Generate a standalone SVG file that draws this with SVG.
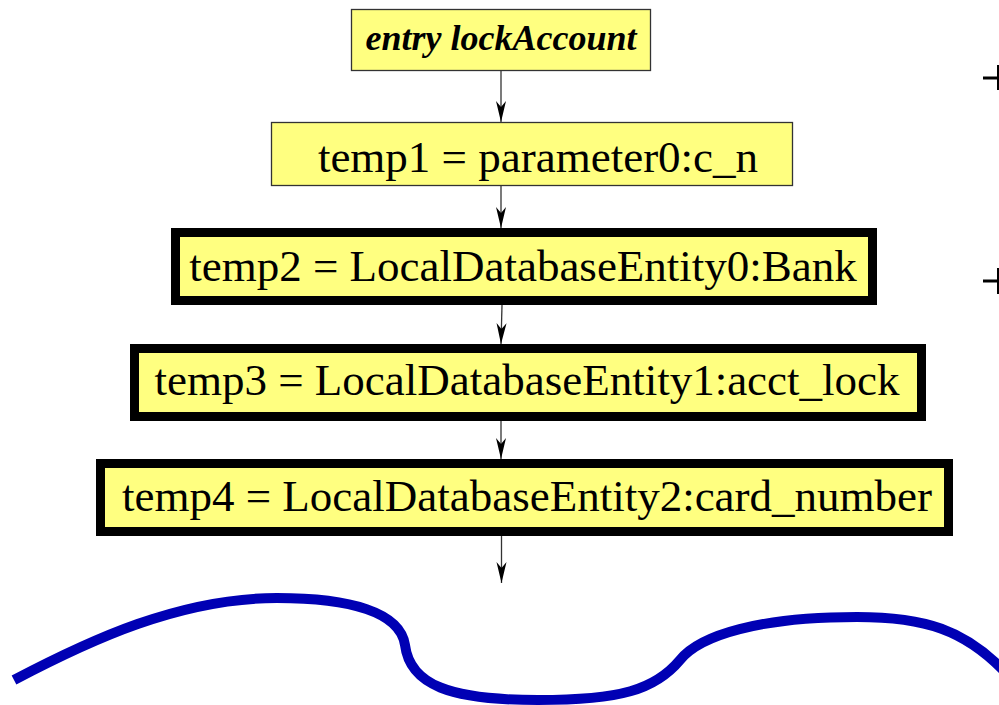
<svg xmlns="http://www.w3.org/2000/svg" width="999" height="705" viewBox="0 0 999 705">
<style>
.box{fill:#ffff80;stroke:#333;stroke-width:1.3}
.thick{fill:#ffff80;stroke:#000;stroke-width:9}
.edge{stroke:#333;stroke-width:1.3;fill:none;marker-end:url(#arr)}
.wave{fill:none;stroke:#0000b4;stroke-width:10;stroke-linecap:butt}
.cross{stroke:#000;fill:none}
</style>
<defs>
<marker id="arr" markerUnits="userSpaceOnUse" viewBox="-22 -6 23 12" markerWidth="23" markerHeight="12" refX="0" refY="0" orient="auto">
<path d="M0,0 L-21,-5 L-15,0 L-21,5 Z" fill="#000"/>
</marker>
</defs>
<g id="connectors">
<line class="edge" x1="501" y1="70" x2="501" y2="122"/>
<line class="edge" x1="501" y1="186" x2="501" y2="228"/>
<line class="edge" x1="502" y1="305" x2="501" y2="344"/>
<line class="edge" x1="501" y1="421" x2="501" y2="459"/>
<line class="edge" x1="501.5" y1="536" x2="501.5" y2="583"/>
</g>
<g id="node-entry">
<rect class="box" x="351.5" y="9.5" width="299" height="61"/>
<text font-family="'Liberation Serif', serif" font-size="36" font-weight="bold" font-style="italic" x="501" y="50" text-anchor="middle">entry lockAccount</text>
</g>
<g id="node-temp1">
<rect class="box" x="271.5" y="122.5" width="521" height="63"/>
<text font-family="'Liberation Serif', serif" font-size="45" x="538" y="172" text-anchor="middle">temp1 = parameter0:c_n</text>
</g>
<g id="node-temp2">
<rect class="thick" x="175.5" y="232.5" width="697" height="68"/>
<text font-family="'Liberation Serif', serif" font-size="45" x="523" y="281" text-anchor="middle">temp2 = LocalDatabaseEntity0:Bank</text>
</g>
<g id="node-temp3">
<rect class="thick" x="134.5" y="348.5" width="787" height="68"/>
<text font-family="'Liberation Serif', serif" font-size="45" x="527" y="395" text-anchor="middle">temp3 = LocalDatabaseEntity1:acct_lock</text>
</g>
<g id="node-temp4">
<rect class="thick" x="100.5" y="463.5" width="848" height="68"/>
<text font-family="'Liberation Serif', serif" font-size="45" x="527" y="511" text-anchor="middle">temp4 = LocalDatabaseEntity2:card_number</text>
</g>
<g id="cut-marks">
<line class="cross" x1="983" y1="78" x2="999" y2="78" stroke-width="3"/>
<line class="cross" x1="998" y1="65" x2="998" y2="90" stroke-width="2"/>
<line class="cross" x1="983" y1="281" x2="999" y2="281" stroke-width="3"/>
<line class="cross" x1="998" y1="268" x2="998" y2="294" stroke-width="2"/>
</g>
<path class="wave" d="M14,680 C90,640 180,598 277,598 C350,598 400,612 405,645 C410,685 450,700 538,700 C620,700 655,690 680,660 C700,635 760,617 857,617 C925,617 965,630 1005,672"/>
</svg>
